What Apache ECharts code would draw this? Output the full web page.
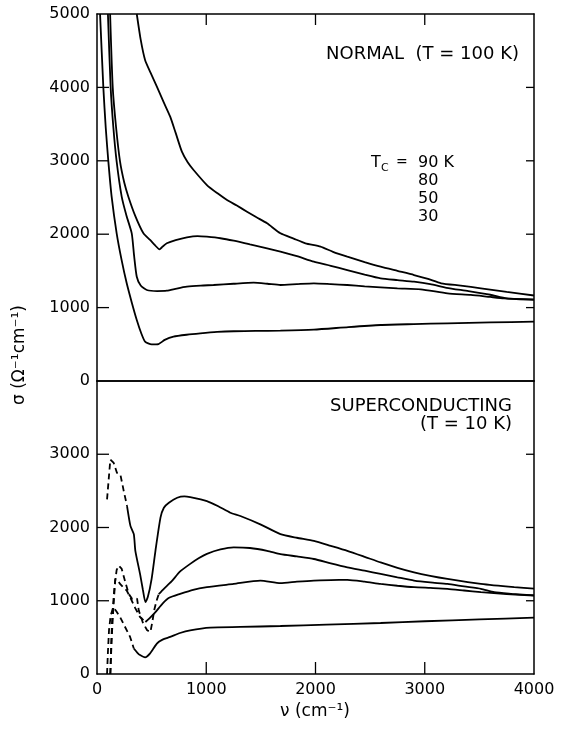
<!DOCTYPE html>
<html><head><meta charset="utf-8">
<script src="https://cdn.jsdelivr.net/npm/echarts@6.0.0/dist/echarts.min.js"></script>
<style>html,body{margin:0;padding:0;background:#fff}#c{width:562px;height:731px;background:#fff}</style>
</head><body><div id="c"></div>
<script>
// tick values
const xTicks = [0, 1000, 2000, 3000, 4000];
const yTicksNormal = [0, 1000, 2000, 3000, 4000, 5000];
const yTicksSuper = [0, 1000, 2000, 3000];

// NORMAL (T = 100 K)  [nu, sigma]
const normal90 = [[364,5000],[400,4650],[440,4373],[490,4200],[548,4010],[610,3800],[670,3601],[720,3380],[777,3124],[830,2980],[884,2875],[1006,2670],[1100,2560],[1190,2466],[1280,2390],[1373,2307],[1460,2230],[1557,2148],[1679,2012],[1800,1940],[1908,1876],[2046,1830],[2160,1760],[2291,1694],[2450,1620],[2596,1557],[2750,1500],[2902,1444],[3030,1390],[3150,1331],[3330,1300],[3514,1263],[3750,1215],[4000,1165]];
const normal80 = [[120,5000],[144,4000],[175,3450],[211,2988],[250,2700],[287,2511],[350,2250],[425,2012],[486,1921],[530,1850],[572,1794],[600,1830],[639,1876],[720,1920],[823,1958],[920,1975],[1006,1966],[1130,1945],[1251,1911],[1400,1860],[1557,1808],[1679,1762],[1830,1700],[1985,1625],[2140,1570],[2291,1512],[2450,1450],[2596,1399],[2750,1375],[2902,1353],[3050,1320],[3200,1270],[3400,1225],[3600,1175],[3750,1125],[4000,1105]];
const normal50 = [[100,5000],[125,4000],[150,3450],[180,2988],[226,2511],[270,2250],[318,2012],[340,1700],[364,1421],[400,1300],[456,1240],[550,1225],[639,1230],[730,1260],[823,1285],[950,1300],[1067,1308],[1250,1325],[1434,1339],[1560,1325],[1679,1308],[1830,1320],[1985,1331],[2140,1320],[2291,1308],[2450,1290],[2596,1276],[2750,1262],[2963,1249],[3208,1194],[3422,1172],[3600,1145],[3725,1127],[4000,1113]];
const normal30 = [[28,5000],[58,4000],[80,3450],[104,2988],[134,2511],[180,2012],[225,1650],[272,1331],[320,1060],[364,831],[405,650],[440,536],[500,500],[563,504],[620,560],[700,604],[820,630],[945,649],[1100,668],[1251,678],[1450,682],[1679,686],[1985,700],[2300,735],[2596,763],[2900,775],[3208,786],[3600,798],[4000,808]];

// SUPERCONDUCTING (T = 10 K): dashed low-frequency parts and solid parts
const super90Dash = [[92,2384],[122,2927],[153,2881],[183,2745],[214,2723],[245,2497],[275,2293]];
const super90 = [[275,2293],[306,2022],[337,1909],[351,1682],[394,1366],[420,1150],[443,981],[465,1050],[500,1300],[535,1682],[581,2134],[612,2270],[658,2338],[734,2406],[800,2425],[853,2415],[1006,2361],[1110,2290],[1220,2202],[1312,2157],[1500,2040],[1679,1909],[1830,1860],[1985,1818],[2140,1750],[2291,1682],[2450,1600],[2596,1523],[2750,1450],[2902,1388],[3050,1340],[3208,1298],[3514,1230],[3819,1185],[4000,1165]];
const super80Dash = [[122,0],[135,500],[150,900],[165,1250],[180,1420],[199,1479],[225,1440],[260,1250],[290,1094],[321,1027],[345,1040],[367,1027],[382,869],[420,700],[459,597],[489,574],[505,700],[525,880],[545,1000],[565,1090]];
const super80 = [[565,1090],[612,1163],[680,1260],[761,1400],[850,1500],[930,1580],[1006,1640],[1130,1700],[1251,1728],[1400,1720],[1557,1682],[1679,1637],[1830,1605],[1985,1570],[2140,1510],[2291,1456],[2450,1410],[2596,1366],[2750,1320],[2902,1276],[3050,1250],[3208,1230],[3360,1195],[3514,1163],[3636,1117],[3800,1095],[4000,1072]];
const super50Dash = [[122,0],[130,400],[140,800],[155,1100],[168,1298],[190,1280],[211,1230],[250,1170],[272,1140],[303,1049],[350,900],[394,778],[443,710]];
const super50 = [[443,710],[480,760],[535,845],[600,960],[660,1040],[761,1094],[880,1150],[1006,1185],[1251,1230],[1495,1276],[1679,1240],[1830,1260],[1985,1276],[2140,1282],[2291,1285],[2450,1260],[2596,1230],[2750,1205],[2902,1185],[3050,1175],[3208,1163],[3360,1140],[3514,1117],[3750,1090],[4000,1072]];
const super30Dash = [[92,0],[100,300],[110,600],[125,800],[150,913],[180,850],[211,778],[257,642],[303,506],[337,348]];
const super30 = [[337,348],[370,290],[394,258],[440,226],[486,281],[548,416],[600,470],[670,506],[760,560],[853,597],[1037,634],[1312,642],[1679,655],[2100,675],[2596,696],[3000,720],[3500,745],[4000,769]];

const FONT = 'DejaVu Sans';
const chart = echarts.init(document.getElementById('c'));

function line(data, g, dashed) {
  return {
    type: 'line', xAxisIndex: g * 2, yAxisIndex: g * 2, data: data,
    symbol: 'none', smooth: dashed ? false : 0.2,
    lineStyle: {color: '#000', width: 1.8, type: dashed ? [6, 4] : 'solid'}
  };
}
function lbl(list, margin) {
  return {show: true, margin: margin, fontFamily: FONT, fontSize: 16, color: '#000',
          formatter: v => list.includes(v) ? String(v) : ''};
}
function ax(grid, pos, max, label) {
  const a = {
    gridIndex: grid, type: 'value', min: 0, max: max, interval: 1000,
    axisLine: {show: true, onZero: false, lineStyle: {color: '#000', width: 1.5}},
    splitLine: {show: false},
    axisTick: {show: false},
    axisLabel: label || {show: false}
  };
  if (pos) a.position = pos;
  return a;
}

const texts = [
  {type: 'text', x: 519, y: 54, style: {text: 'NORMAL  (T = 100 K)', font: '18px "DejaVu Sans"', fill: '#000', align: 'right', verticalAlign: 'middle'}},
  {type: 'text', x: 371, y: 163, style: {text: 'T', font: '16px "DejaVu Sans"', fill: '#000', align: 'left', verticalAlign: 'middle'}},
  {type: 'text', x: 381, y: 168, style: {text: 'C', font: '11px "DejaVu Sans"', fill: '#000', align: 'left', verticalAlign: 'middle'}},
  {type: 'text', x: 396, y: 162, style: {text: '=', font: '14px "DejaVu Sans"', fill: '#000', align: 'left', verticalAlign: 'middle'}},
  {type: 'text', x: 418, y: 163, style: {text: '90 K', font: '16px "DejaVu Sans"', fill: '#000', align: 'left', verticalAlign: 'middle'}},
  {type: 'text', x: 418, y: 181, style: {text: '80', font: '16px "DejaVu Sans"', fill: '#000', align: 'left', verticalAlign: 'middle'}},
  {type: 'text', x: 418, y: 199, style: {text: '50', font: '16px "DejaVu Sans"', fill: '#000', align: 'left', verticalAlign: 'middle'}},
  {type: 'text', x: 418, y: 217, style: {text: '30', font: '16px "DejaVu Sans"', fill: '#000', align: 'left', verticalAlign: 'middle'}},
  {type: 'text', x: 512, y: 406, style: {text: 'SUPERCONDUCTING', font: '18px "DejaVu Sans"', fill: '#000', align: 'right', verticalAlign: 'middle'}},
  {type: 'text', x: 512, y: 424, style: {text: '(T = 10 K)', font: '18px "DejaVu Sans"', fill: '#000', align: 'right', verticalAlign: 'middle'}},
  {type: 'text', x: 315, y: 712, style: {text: 'ν (cm⁻¹)', font: '17px "DejaVu Sans"', fill: '#000', align: 'center', verticalAlign: 'middle'}},
  {type: 'text', x: 20, y: 355, rotation: Math.PI / 2, style: {text: 'σ (Ω⁻¹cm⁻¹)', font: '17px "DejaVu Sans"', fill: '#000', align: 'center', verticalAlign: 'middle'}}
];

const GRIDS = [
  {left: 97, top: 14, width: 437, height: 367},
  {left: 97, top: 381, width: 437, height: 293}
];
const option = {
  animation: false,
  grid: GRIDS,
  xAxis: [
    ax(0, 'top', 4000, null),
    ax(0, null, 4000, null),
    ax(1, null, 4000, lbl(xTicks, 8)),
    ax(1, 'top', 4000, null)
  ],
  yAxis: [
    ax(0, null, 5000, lbl(yTicksNormal, 7)),
    ax(0, 'right', 5000, null),
    ax(1, null, 4000, lbl(yTicksSuper, 7)),
    ax(1, 'right', 4000, null)
  ],
  series: [
    line(normal90, 0), line(normal80, 0), line(normal50, 0), line(normal30, 0),
    line(super90Dash, 1, true), line(super90, 1),
    line(super80Dash, 1, true), line(super80, 1),
    line(super50Dash, 1, true), line(super50, 1),
    line(super30Dash, 1, true), line(super30, 1)
  ],
  graphic: {elements: texts}
};
chart.setOption(option);

// inward tick marks, placed through each axis' own scale
function xPix(axisIdx, v, g, max) {
  let p;
  try { p = chart.convertToPixel({xAxisIndex: axisIdx}, v); } catch (e) { p = NaN; }
  if (typeof p !== 'number' || !isFinite(p)) p = GRIDS[g].left + v / max * GRIDS[g].width;
  return p;
}
function yPix(axisIdx, v, g, max) {
  let p;
  try { p = chart.convertToPixel({yAxisIndex: axisIdx}, v); } catch (e) { p = NaN; }
  if (typeof p !== 'number' || !isFinite(p)) p = GRIDS[g].top + GRIDS[g].height * (1 - v / max);
  return p;
}
const ticks = [];
function tk(x, y, dx, dy) {
  ticks.push({type: 'line', silent: true, z: 100,
    shape: {x1: x, y1: y, x2: x + dx, y2: y + dy},
    style: {stroke: '#000', lineWidth: 1.3}});
}
const L = GRIDS[0].left, R = GRIDS[0].left + GRIDS[0].width;
const T0 = GRIDS[0].top, B1 = GRIDS[1].top + GRIDS[1].height;
xTicks.filter(v => v > 0 && v < 4000).forEach(v => {
  tk(xPix(0, v, 0, 4000), T0, 0, 11);
  tk(xPix(2, v, 1, 4000), B1, 0, -12);
});
yTicksNormal.filter(v => v > 0 && v < 5000).forEach(v => {
  tk(L, yPix(0, v, 0, 5000), 12, 0);
  tk(R, yPix(1, v, 0, 5000), -8, 0);
});
yTicksSuper.filter(v => v > 0).forEach(v => {
  tk(L, yPix(2, v, 1, 4000), 12, 0);
  tk(R, yPix(3, v, 1, 4000), -8, 0);
});
chart.setOption({graphic: {elements: texts.concat(ticks)}});
</script>
</body></html>
